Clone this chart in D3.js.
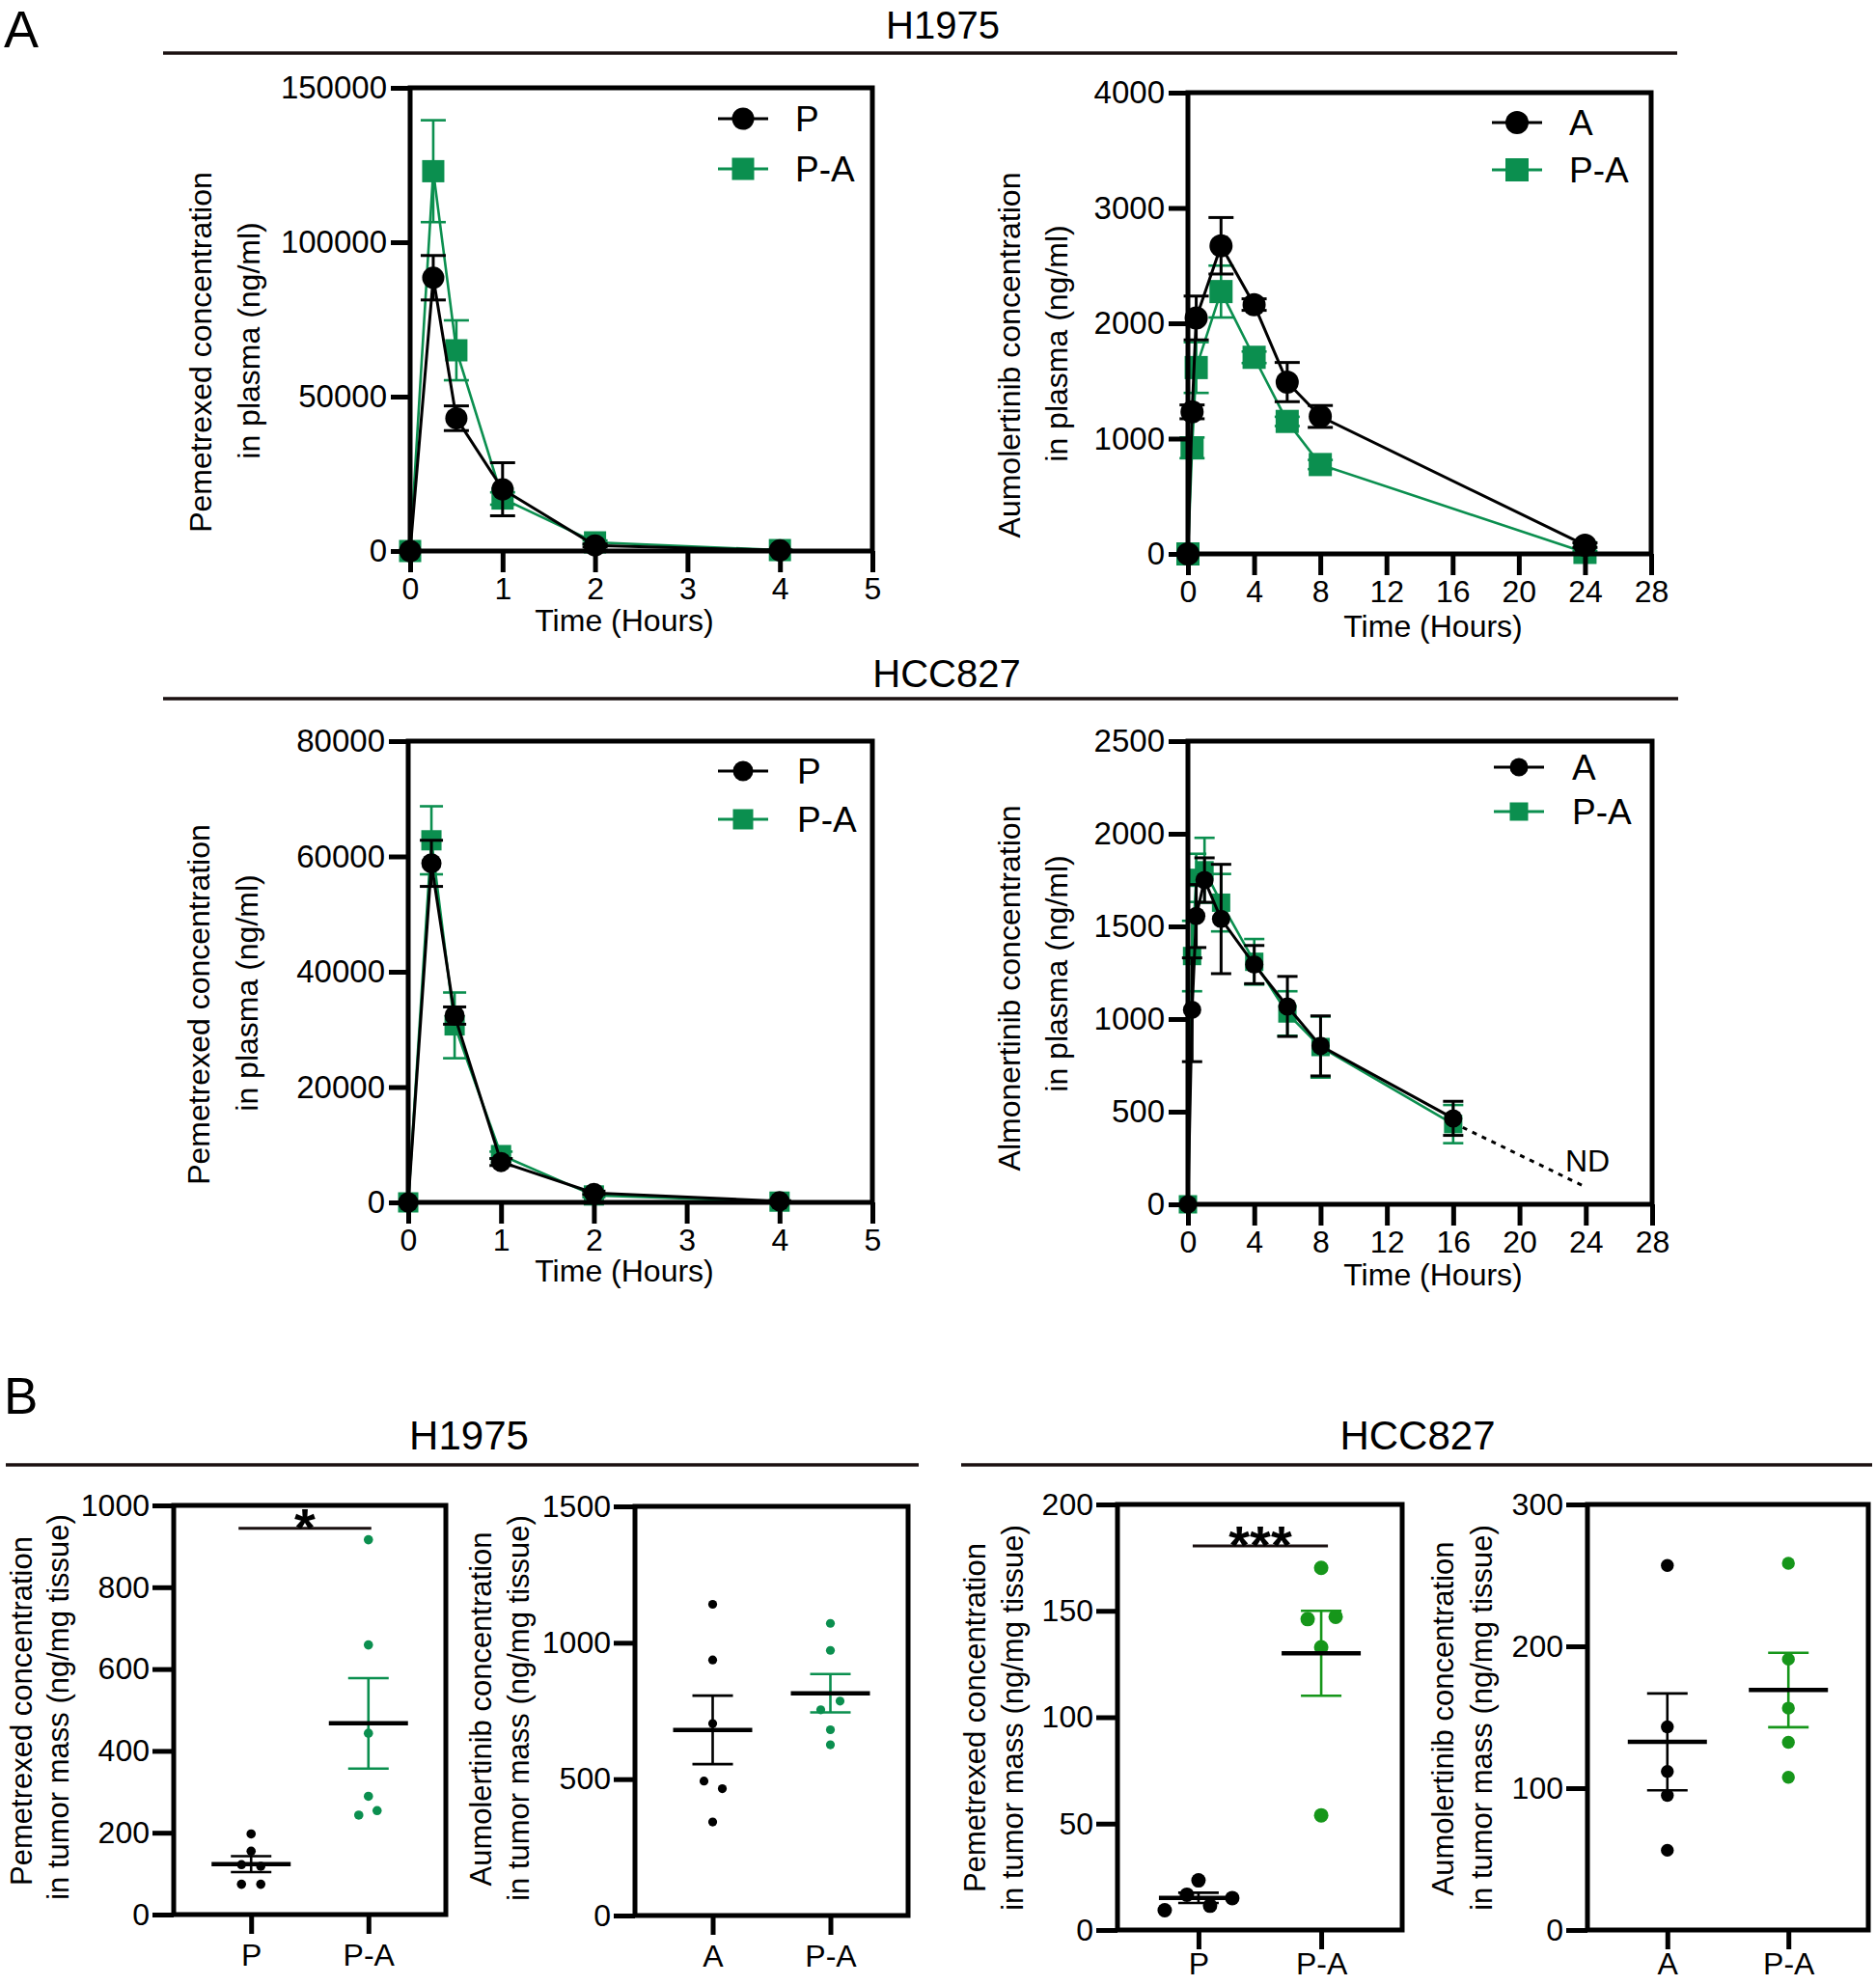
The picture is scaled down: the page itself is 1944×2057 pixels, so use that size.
<!DOCTYPE html>
<html><head><meta charset="utf-8">
<script src="https://cdn.jsdelivr.net/npm/d3@7"></script>
<style>
body{margin:0;background:#fff}
svg{display:block}
text{font-family:"Liberation Sans",Arial,Helvetica,sans-serif;fill:#000}
</style>
</head><body>
<svg id="c" width="1944" height="2057"></svg>
<script>
// ---------------- DATA ----------------
// Panel A, H1975, pemetrexed in plasma
const timeP = [0, 0.25, 0.5, 1, 2, 4];
const h1975_P_mean  = [0, 88500, 43000, 20000, 1800, 200];
const h1975_P_sem   = [0, 7200, 4000, 8600, 500, 100];
const h1975_PA_mean = [0, 123000, 65000, 17000, 2800, 300];
const h1975_PA_sem  = [0, 16500, 9700, 2000, 600, 100];

// Panel A, H1975, aumolertinib in plasma
const timeA_h1975 = [0, 0.25, 0.5, 2, 4, 6, 8, 24];
const h1975_A_mean   = [0, 1232, 2046, 2672, 2162, 1490, 1192, 76];
const h1975_A_sem    = [0, 60, 190, 245, 50, 170, 95, 20];
const h1975_PA2_mean = [0, 920, 1616, 2275, 1705, 1149, 775, 13];
const h1975_PA2_sem  = [0, 90, 220, 225, 50, 40, 40, 10];

// Panel A, HCC827, pemetrexed in plasma
const hcc_P_mean  = [0, 58800, 32400, 7000, 1650, 200];
const hcc_P_sem   = [0, 4000, 1500, 600, 300, 100];
const hcc_PA_mean = [0, 62800, 30700, 8200, 1200, 130];
const hcc_PA_sem  = [0, 5900, 5700, 600, 300, 100];

// Panel A, HCC827, almonertinib in plasma
const timeA_hcc = [0, 0.25, 0.5, 1, 2, 4, 6, 8, 16];
const hcc_A_mean   = [0, 1050, 1556, 1750, 1540, 1294, 1068, 855, 464];
const hcc_A_sem    = [0, 280, 170, 120, 295, 103, 162, 162, 92];
const hcc_PA2_mean = [0, 1340, 1762, 1803, 1628, 1309, 1030, 849, 433];
const hcc_PA2_sem  = [0, 190, 130, 175, 155, 123, 120, 165, 103];
const ndTime  = [16, 24];
const ndValue = [440, 93];

// Panel B, tumour concentrations (individual animals)
const b_h1975_P   = [197, 155, 122, 118, 74, 74];
const b_h1975_PA  = [916, 659, 443, 289, 243, 254];
const b_h1975_A   = [1141, 937, 704, 493, 465, 343];
const b_h1975_PA2 = [1071, 972, 786, 754, 681, 626];
const b_hcc_P     = [9.3, 16.6, 23.3, 11.4, 15.0];
const b_hcc_PA    = [170.2, 146.1, 147.2, 132.9, 53.9];
const b_hcc_A     = [257, 143.2, 111.8, 94.9, 56.2];
const b_hcc_PA2   = [258.5, 190.9, 156.4, 132.3, 107.7];

// tick values
const xTicksShort = [0, 1, 2, 3, 4, 5];
const xTicksLong  = [0, 4, 8, 12, 16, 20, 24, 28];
const yTicksA1 = [0, 50000, 100000, 150000];
const yTicksA2 = [0, 1000, 2000, 3000, 4000];
const yTicksA3 = [0, 20000, 40000, 60000, 80000];
const yTicksA4 = [0, 500, 1000, 1500, 2000, 2500];
const yTicksB1 = [0, 200, 400, 600, 800, 1000];
const yTicksB2 = [0, 500, 1000, 1500];
const yTicksB3 = [0, 50, 100, 150, 200];
const yTicksB4 = [0, 100, 200, 300];

// layout-only horizontal dodge of overlapping dots (px)
const dodgeB1P = [0, 0, -10, 10, -10, 10], dodgeB1PA = [0, 0, 0, 0, -10, 9];
const dodgeB2A = [0, 0, 0, -9, 10, 0],     dodgeB2PA = [0, 0, 10, -10, 0, 0];
const dodgeB3P = [-35, -12, 0, 12, 35],    dodgeB3PA = [0, -14, 15, 0, 0];
const dodgeB4A = [0, 0, 0, 0, 0],          dodgeB4PA = [0, 0, 0, 0, 0];

// ---------------- DRAWING ----------------
const GREEN = "#0b8f4f", GREEN2 = "#16961a", BLACK = "#000";
const svg = d3.select("#c");
const fmt = d3.format("d");

function txt(x, y, s, size, anchor, extra) {
  const t = svg.append("text").attr("x", x).attr("y", y).attr("font-size", size)
    .attr("text-anchor", anchor || "middle").text(s);
  if (extra) extra(t);
  return t;
}

function styleAxis(g, sw) {
  g.select(".domain").remove();
  g.selectAll(".tick line").attr("stroke", "#000").attr("stroke-width", sw);
  g.selectAll(".tick text").attr("fill", "#000").attr("font-family", '"Liberation Sans",Arial,sans-serif');
}

function frame(o, sw) {
  svg.append("rect").attr("x", o.x0).attr("y", o.y0).attr("width", o.x1 - o.x0).attr("height", o.y1 - o.y0)
    .attr("fill", "none").attr("stroke", "#000").attr("stroke-width", sw);
}

function yTitle(o, lines, size) {
  lines.forEach((s, i) => {
    const cx = o.x0 + o.ytX[i], cy = o.ytY[i];
    svg.append("text").attr("transform", `translate(${cx},${cy}) rotate(-90)`)
      .attr("text-anchor", "middle").attr("dominant-baseline", "central")
      .attr("font-size", size).text(s);
  });
}

function marker(g, shape, cx, cy, r, color) {
  if (shape === "circle") {
    g.append("circle").attr("cx", cx).attr("cy", cy).attr("r", r).attr("fill", color);
  } else {
    g.append("rect").attr("x", cx - r).attr("y", cy - r).attr("width", 2 * r).attr("height", 2 * r).attr("fill", color);
  }
}

function linePanel(o) {
  const x = d3.scaleLinear().domain(o.xDomain).range([o.x0, o.x1]);
  const y = d3.scaleLinear().domain(o.yDomain).range([o.y1, o.y0]);
  const g = svg.append("g");
  const line = d3.line().x(d => x(d[0])).y(d => y(d[1]));
  o.series.forEach(s => {
    const pts = s.t.map((t, i) => [t, s.mean[i], s.sem[i]]);
    g.append("path").datum(pts).attr("d", line).attr("fill", "none")
      .attr("stroke", s.color).attr("stroke-width", s.lw);
    pts.forEach(p => {
      if (p[2] <= 0) return;
      const cx = x(p[0]), yt = y(p[1] + p[2]), yb = y(Math.max(0, p[1] - p[2]));
      g.append("line").attr("x1", cx).attr("x2", cx).attr("y1", yt).attr("y2", yb)
        .attr("stroke", s.color).attr("stroke-width", s.lw);
      [yt, yb].forEach(yy => g.append("line").attr("x1", cx - o.cap / 2).attr("x2", cx + o.cap / 2)
        .attr("y1", yy).attr("y2", yy).attr("stroke", s.color).attr("stroke-width", s.lw));
    });
    pts.forEach(p => marker(g, s.shape, x(p[0]), y(p[1]), o.r, s.color));
  });
  if (o.nd) {
    g.append("path").datum(o.nd.t.map((t, i) => [t, o.nd.v[i]])).attr("d", line)
      .attr("fill", "none").attr("stroke", "#000").attr("stroke-width", 3).attr("stroke-dasharray", "5,6");
    txt(x(o.nd.labelT), y(o.nd.labelV), "ND", 32, "middle", t => t.attr("dominant-baseline", "central"));
  }
  // axes
  const gx = svg.append("g").attr("transform", `translate(0,${o.y1})`)
    .call(d3.axisBottom(x).tickValues(o.xTicks).tickSize(22).tickPadding(5).tickFormat(fmt));
  gx.selectAll(".tick text").attr("font-size", 32);
  styleAxis(gx, 5);
  const gy = svg.append("g").attr("transform", `translate(${o.x0},0)`)
    .call(d3.axisLeft(y).tickValues(o.yTicks).tickSize(20).tickPadding(4).tickFormat(fmt));
  gy.selectAll(".tick text").attr("font-size", 33);
  styleAxis(gy, 5);
  frame(o, 5);
  yTitle(o, o.ytitle, 32);
  txt(o.xt[0], o.xt[1], "Time (Hours)", 32, "middle", t => t.attr("dominant-baseline", "central"));
  // legend (series listed black first)
  o.legendOrder.forEach((s, i) => {
    const ly = o.y0 + o.leg.dy[i], mx = o.x1 + o.leg.dx;
    svg.append("line").attr("x1", mx - 26).attr("x2", mx + 26).attr("y1", ly).attr("y2", ly)
      .attr("stroke", s.color).attr("stroke-width", 3);
    marker(svg, s.shape, mx, ly, o.r, s.color);
    txt(o.x1 + o.leg.tdx, ly, s.name, 37, "start", t => t.attr("dominant-baseline", "central"));
  });
}

function ser(name, t, mean, sem, color, shape, lw) { return { name, t, mean, sem, color, shape, lw }; }

// ----- A1 -----
(function () {
  const sP = ser("P", timeP, h1975_P_mean, h1975_P_sem, BLACK, "circle", 3);
  const sPA = ser("P-A", timeP, h1975_PA_mean, h1975_PA_sem, GREEN, "square", 2.6);
  linePanel({ x0: 425, x1: 904, y0: 91, y1: 571, xDomain: [0, 5], yDomain: [0, 150000],
    xTicks: xTicksShort, yTicks: yTicksA1, r: 11.5, cap: 26,
    series: [sPA, sP], legendOrder: [sP, sPA], leg: { dx: -134, tdx: -80, dy: [32, 84] },
    ytitle: ["Pemetrexed concentration", "in plasma (ng/ml)"], ytX: [-217, -167], ytY: [365, 353],
    xt: [647, 643] });
})();
// ----- A2 -----
(function () {
  const sA = ser("A", timeA_h1975, h1975_A_mean, h1975_A_sem, BLACK, "circle", 3);
  const sPA = ser("P-A", timeA_h1975, h1975_PA2_mean, h1975_PA2_sem, GREEN, "square", 2.6);
  linePanel({ x0: 1231, x1: 1711, y0: 96, y1: 574, xDomain: [0, 28], yDomain: [0, 4000],
    xTicks: xTicksLong, yTicks: yTicksA2, r: 12, cap: 26,
    series: [sPA, sA], legendOrder: [sA, sPA], leg: { dx: -139, tdx: -85, dy: [31, 80] },
    ytitle: ["Aumolertinib concentration", "in plasma (ng/ml)"], ytX: [-185, -136], ytY: [368, 356],
    xt: [1485, 649] });
})();
// ----- A3 -----
(function () {
  const sP = ser("P", timeP, hcc_P_mean, hcc_P_sem, BLACK, "circle", 3);
  const sPA = ser("P-A", timeP, hcc_PA_mean, hcc_PA_sem, GREEN, "square", 2.6);
  linePanel({ x0: 423, x1: 904, y0: 768, y1: 1246, xDomain: [0, 5], yDomain: [0, 80000],
    xTicks: xTicksShort, yTicks: yTicksA3, r: 10.5, cap: 24,
    series: [sPA, sP], legendOrder: [sP, sPA], leg: { dx: -134, tdx: -78, dy: [31, 81] },
    ytitle: ["Pemetrexed concentration", "in plasma (ng/ml)"], ytX: [-217, -167], ytY: [1041, 1029],
    xt: [647, 1317] });
})();
// ----- A4 -----
(function () {
  const sA = ser("A", timeA_hcc, hcc_A_mean, hcc_A_sem, BLACK, "circle", 3);
  const sPA = ser("P-A", timeA_hcc, hcc_PA2_mean, hcc_PA2_sem, GREEN, "square", 2.6);
  linePanel({ x0: 1231, x1: 1712, y0: 768, y1: 1248, xDomain: [0, 28], yDomain: [0, 2500],
    xTicks: xTicksLong, yTicks: yTicksA4, r: 9.5, cap: 21,
    series: [sPA, sA], legendOrder: [sA, sPA], leg: { dx: -138, tdx: -83, dy: [27, 73] },
    ytitle: ["Almonertinib concentration", "in plasma (ng/ml)"], ytX: [-185, -136], ytY: [1024, 1009],
    xt: [1485, 1321], nd: { t: ndTime, v: ndValue, labelT: 24.1, labelV: 232 } });
})();

// ---------------- B panels ----------------
function dotPanel(o) {
  const x = d3.scalePoint().domain(o.cats).range([o.x0, o.x1]).padding(0.66);
  const y = d3.scaleLinear().domain(o.yDomain).range([o.y1, o.y0]);
  const g = svg.append("g");
  o.groups.forEach((grp, gi) => {
    const cx = x(o.cats[gi]);
    const m = d3.mean(grp.v), se = d3.deviation(grp.v) / Math.sqrt(grp.v.length);
    // dots
    grp.v.forEach((v, i) => g.append("circle").attr("cx", cx + grp.dodge[i]).attr("cy", y(v))
      .attr("r", o.r).attr("fill", grp.color));
    // SEM bar
    g.append("line").attr("x1", cx).attr("x2", cx).attr("y1", y(m + se)).attr("y2", y(m - se))
      .attr("stroke", grp.color).attr("stroke-width", 2.6);
    [m + se, m - se].forEach(v => g.append("line").attr("x1", cx - 21).attr("x2", cx + 21)
      .attr("y1", y(v)).attr("y2", y(v)).attr("stroke", grp.color).attr("stroke-width", 2.6));
    // mean
    g.append("line").attr("x1", cx - 41).attr("x2", cx + 41).attr("y1", y(m)).attr("y2", y(m))
      .attr("stroke", "#000").attr("stroke-width", 4.5);
  });
  if (o.sig) {
    const xa = x(o.cats[0]) + o.sig.dx[0], xb = x(o.cats[1]) + o.sig.dx[1];
    svg.append("line").attr("x1", xa).attr("x2", xb).attr("y1", y(o.sig.v)).attr("y2", y(o.sig.v))
      .attr("stroke", "#1a1010").attr("stroke-width", 3);
    txt((xa + xb) / 2, y(o.sig.v) + 18, o.sig.label, 56, "middle", t => t.attr("font-weight", "bold"));
  }
  const gx = svg.append("g").attr("transform", `translate(0,${o.y1})`)
    .call(d3.axisBottom(x).tickSize(20).tickPadding(o.catPad));
  gx.selectAll(".tick text").attr("font-size", 32);
  styleAxis(gx, 5);
  const gy = svg.append("g").attr("transform", `translate(${o.x0},0)`)
    .call(d3.axisLeft(y).tickValues(o.yTicks).tickSize(22).tickPadding(3).tickFormat(fmt));
  gy.selectAll(".tick text").attr("font-size", 32);
  styleAxis(gy, 5);
  frame(o, 5);
  yTitle(o, o.ytitle, 31);
}

dotPanel({ x0: 180, x1: 462, y0: 1560, y1: 1984, yDomain: [0, 1000], yTicks: yTicksB1, r: 4.8,
  cats: ["P", "P-A"], catPad: 10,
  groups: [{ v: b_h1975_P, dodge: dodgeB1P, color: BLACK }, { v: b_h1975_PA, dodge: dodgeB1PA, color: GREEN }],
  sig: { v: 944, dx: [-13, 3], label: "*" },
  ytitle: ["Pemetrexed concentration", "in tumor mass (ng/mg tissue)"], ytX: [-158, -120], ytY: [1773, 1769] });

dotPanel({ x0: 658, x1: 941, y0: 1561, y1: 1985, yDomain: [0, 1500], yTicks: yTicksB2, r: 4.6,
  cats: ["A", "P-A"], catPad: 10,
  groups: [{ v: b_h1975_A, dodge: dodgeB2A, color: BLACK }, { v: b_h1975_PA2, dodge: dodgeB2PA, color: GREEN }],
  ytitle: ["Aumolertinib concentration", "in tumor mass (ng/mg tissue)"], ytX: [-160, -121], ytY: [1771, 1770] });

dotPanel({ x0: 1158, x1: 1453, y0: 1559, y1: 2000, yDomain: [0, 200], yTicks: yTicksB3, r: 7.5,
  cats: ["P", "P-A"], catPad: 3,
  groups: [{ v: b_hcc_P, dodge: dodgeB3P, color: BLACK }, { v: b_hcc_PA, dodge: dodgeB3PA, color: GREEN2 }],
  sig: { v: 180.5, dx: [-6, 7], label: "***" },
  ytitle: ["Pemetrexed concentration", "in tumor mass (ng/mg tissue)"], ytX: [-148, -109], ytY: [1780, 1780] });

dotPanel({ x0: 1645, x1: 1936, y0: 1559, y1: 2000, yDomain: [0, 300], yTicks: yTicksB4, r: 6.7,
  cats: ["A", "P-A"], catPad: 3,
  groups: [{ v: b_hcc_A, dodge: dodgeB4A, color: BLACK }, { v: b_hcc_PA2, dodge: dodgeB4PA, color: GREEN2 }],
  ytitle: ["Aumolertinib concentration", "in tumor mass (ng/mg tissue)"], ytX: [-150, -110], ytY: [1781, 1780] });

// ---------------- headers ----------------
txt(4, 49, "A", 54, "start");
txt(4, 1465, "B", 53, "start");
function header(cx, by, s, size, xa, xb, ly) {
  txt(cx, by, s, size, "middle");
  svg.append("line").attr("x1", xa).attr("x2", xb).attr("y1", ly).attr("y2", ly)
    .attr("stroke", "#1a1010").attr("stroke-width", 3.5);
}
header(977, 40, "H1975", 40, 169, 1738, 55);
header(981, 712, "HCC827", 40, 169, 1739, 724);
header(486, 1502, "H1975", 42, 6, 952, 1518);
header(1469, 1502, "HCC827", 42, 996, 1940, 1518);
</script>
</body></html>
